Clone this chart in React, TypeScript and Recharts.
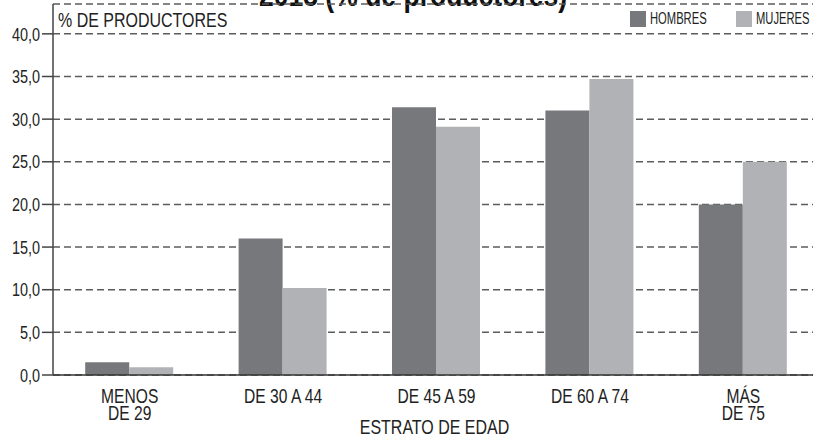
import { BarChart, Bar, XAxis, YAxis, CartesianGrid, Legend, Label } from "recharts";

const categories = ["MENOS\nDE 29", "DE 30 A 44", "DE 45 A 59", "DE 60 A 74", "MÁS\nDE 75"];
const hombres = [1.5, 16.0, 31.4, 31.0, 20.0];
const mujeres = [0.9, 10.2, 29.1, 34.7, 25.0];
const yTicks = [0, 5, 10, 15, 20, 25, 30, 35, 40];
const boundaryTicks = [1, 2, 3, 4];

// no condensed face installed, so Liberation Sans gets squeezed horizontally
const FONT = '"Liberation Sans", Arial, sans-serif';
const SQUEEZE = 0.78;
const DARK = "#77787c";
const LIGHT = "#b1b2b5";
const INK = "#222";

const data = categories.map((c, i) => ({ name: c, HOMBRES: hombres[i], MUJERES: mujeres[i] }));

function NarrowText({ x, y, anchor = "middle", size, children, dy }: any) {
  return (
    <g transform={`translate(${x},${y})`}>
      <text transform={`scale(${SQUEEZE},1)`} textAnchor={anchor} fill={INK} fontSize={size} fontFamily={FONT} dy={dy}>
        {children}
      </text>
    </g>
  );
}

function CategoryTick(props: any) {
  const { x, y, payload } = props;
  const lines = String(payload.value).split("\n");
  return (
    <g transform={`translate(${x},${y})`}>
      <text transform={`scale(${SQUEEZE},1)`} textAnchor="middle" fill={INK} fontSize={20} fontFamily={FONT}>
        {lines.map((l, i) => (
          <tspan key={i} x={0} dy={i === 0 ? 20 : 17.5}>
            {l}
          </tspan>
        ))}
      </text>
    </g>
  );
}

function ValueTick(props: any) {
  const { x, y, payload } = props;
  return (
    <NarrowText x={x} y={y} anchor="end" size={18.5} dy="0.36em">
      {Number(payload.value).toFixed(1).replace(".", ",")}
    </NarrowText>
  );
}

function LegendContent(props: any) {
  const items = props.payload ?? [];
  return (
    <div style={{ display: "flex", fontFamily: FONT, fontSize: 16, color: INK }}>
      {items.map((it: any) => (
        <div key={it.value} style={{ display: "flex", alignItems: "center", width: 106, flexShrink: 0 }}>
          <span style={{ width: 16, height: 16, background: it.color, display: "inline-block", flexShrink: 0 }} />
          <span
            style={{
              display: "inline-block",
              marginLeft: 4,
              transform: "scaleX(0.7)",
              transformOrigin: "left center",
              lineHeight: "16px",
              whiteSpace: "nowrap",
            }}
          >
            {it.value}
          </span>
        </div>
      ))}
    </div>
  );
}

export default function App() {
  return (
    <div style={{ position: "relative", width: 813, height: 440, overflow: "hidden", background: "#fff" }}>
      <style>{"body{margin:0}"}</style>
      <div
        style={{
          position: "absolute",
          top: -23,
          left: 0,
          width: 826,
          textAlign: "center",
          fontFamily: FONT,
          fontWeight: "bold",
          fontSize: 34,
          lineHeight: "34px",
          color: "#111",
          whiteSpace: "nowrap",
          transform: `scaleX(${SQUEEZE})`,
          transformOrigin: "413px 0",
        }}
      >
        2013 (% de productores)
      </div>
      <BarChart
        width={820}
        height={440}
        data={data}
        margin={{ top: 4, right: 0, bottom: 0, left: 0 }}
        barCategoryGap="21%"
        barGap={0}
      >
        <CartesianGrid vertical={false} stroke="#5c5c5c" strokeWidth={1.5} strokeDasharray="7 4" />
        <XAxis
          xAxisId={0}
          type="number"
          domain={[0, 5]}
          ticks={boundaryTicks}
          tick={false}
          axisLine={false}
          tickSize={6}
          stroke="#333"
          height={0}
        />
        <XAxis
          xAxisId="cat"
          dataKey="name"
          height={65}
          tickLine={false}
          tick={<CategoryTick />}
          stroke="#333"
          strokeWidth={1.5}
          interval={0}
        >
          <Label
            content={(p: any) => (
              <NarrowText x={p.viewBox.x + p.viewBox.width / 2 - 2} y={p.viewBox.y + 59} size={20.5}>
                ESTRATO DE EDAD
              </NarrowText>
            )}
          />
        </XAxis>
        <YAxis
          width={53}
          domain={[0, 43.5]}
          ticks={yTicks}
          tick={<ValueTick />}
          tickSize={11}
          tickMargin={2}
          stroke="#444"
          strokeWidth={1.5}
          allowDataOverflow
        >
          <Label
            content={(p: any) => (
              <NarrowText x={p.viewBox.x + p.viewBox.width + 5} y={p.viewBox.y + 22.7} anchor="start" size={20.5}>
                % DE PRODUCTORES
              </NarrowText>
            )}
          />
        </YAxis>
        <Legend
          layout="vertical"
          align="center"
          verticalAlign="middle"
          content={<LegendContent />}
          wrapperStyle={{ position: "absolute", top: 11, left: 630, width: 212, height: 16 }}
        />
        <Bar xAxisId="cat" dataKey="HOMBRES" fill={DARK} isAnimationActive={false} />
        <Bar xAxisId="cat" dataKey="MUJERES" fill={LIGHT} isAnimationActive={false} />
      </BarChart>
    </div>
  );
}
